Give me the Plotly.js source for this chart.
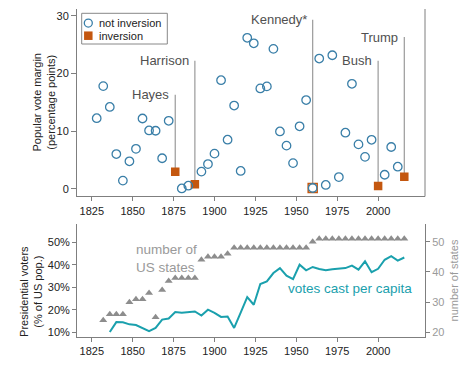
<!DOCTYPE html>
<html>
<head>
<meta charset="utf-8">
<script src="https://cdn.plot.ly/plotly-3.0.1.min.js"></script>
<style>html,body{margin:0;padding:0;background:#fff;}#chart{width:468px;height:373px;}</style>
</head>
<body>
<div id="chart"></div>
<script>
// ---------------- DATA ----------------
const electionYears = [1828,1832,1836,1840,1844,1848,1852,1856,1860,1864,1868,1872,1876,1880,1884,1888,1892,1896,1900,1904,1908,1912,1916,1920,1924,1928,1932,1936,1940,1944,1948,1952,1956,1960,1964,1968,1972,1976,1980,1984,1988,1992,1996,2000,2004,2008,2012,2016];
const voteMargin = [12.25,17.81,14.2,6.05,1.45,4.79,6.95,12.2,10.13,10.08,5.32,11.8,3.0,0.09,0.57,0.83,3.01,4.31,6.12,18.83,8.53,14.44,3.12,26.17,25.22,17.41,17.76,24.26,9.96,7.5,4.48,10.85,15.4,0.17,22.58,0.7,23.15,2.06,9.74,18.21,7.72,5.56,8.51,0.51,2.46,7.27,3.86,2.1];
const inversionYears = [1876,1888,2000,2016];
const disputedYears = [1960];
const labelYears = [1876,1888,1960,2000,2016];
const labelNames = ['Hayes','Harrison','Kennedy*','Bush','Trump'];

const turnoutYears = [1836,1840,1844,1848,1852,1856,1860,1864,1868,1872,1876,1880,1884,1888,1892,1896,1900,1904,1908,1912,1916,1920,1924,1928,1932,1936,1940,1944,1948,1952,1956,1960,1964,1968,1972,1976,1980,1984,1988,1992,1996,2000,2004,2008,2012,2016];
const votesPerCapita = [10.1,14.5,14.4,13.5,13.2,11.9,10.5,11.9,15.6,16.1,19.0,18.7,18.8,19.2,17.4,20.0,18.6,16.8,17.0,11.9,18.7,25.6,22.2,31.4,32.6,36.3,38.5,35.1,33.6,40.0,37.5,39.0,38.1,37.5,38.0,38.3,38.5,39.6,37.8,41.5,36.7,38.2,42.2,43.8,41.8,43.2];

const stateYears = [1832,1836,1840,1844,1848,1852,1856,1860,1864,1868,1872,1876,1880,1884,1888,1892,1896,1900,1904,1908,1912,1916,1920,1924,1928,1932,1936,1940,1944,1948,1952,1956,1960,1964,1968,1972,1976,1980,1984,1988,1992,1996,2000,2004,2008,2012,2016];
const numStates = [24,26,26,26,30,31,31,33,25,34,37,38,38,38,38,44,45,45,45,46,48,48,48,48,48,48,48,48,48,48,48,48,50,51,51,51,51,51,51,51,51,51,51,51,51,51,51];

const xTicks = [1825,1850,1875,1900,1925,1950,1975,2000];
const marginTicks = [0,10,20,30];
const pctTicks = [10,20,30,40,50];
const stateTicks = [20,30,40,50];

// ---------------- LAYOUT HELPERS ----------------
const labelTop = [16.3,22.2,29.3,22.2,26.3]; // label heights (layout)
const FONT = 'Liberation Sans, Arial, Helvetica, sans-serif';
const BLUE = '#3a7fa8', ORANGE = '#c4570f', TEAL = '#1aa0ad', GREY = '#8d8d8d', AX = '#7f7f7f';

const marginOf = y => voteMargin[electionYears.indexOf(y)];
const notInvX = [], notInvY = [];
electionYears.forEach((y,i) => { if (inversionYears.indexOf(y) < 0) { notInvX.push(y); notInvY.push(voteMargin[i]); } });

const traces = [
  {x: inversionYears, y: inversionYears.map(marginOf), xaxis:'x', yaxis:'y', mode:'markers', name:'inversion', showlegend:false,
   marker:{symbol:'square', size:8.5, color:ORANGE}},
  {x: disputedYears, y: disputedYears.map(marginOf), xaxis:'x', yaxis:'y', mode:'markers', name:'disputed', showlegend:false,
   marker:{symbol:'square', size:9, color:'#fff', line:{color:ORANGE, width:1.5}}},
  {x: notInvX, y: notInvY, xaxis:'x', yaxis:'y', mode:'markers', name:'not inversion', showlegend:false,
   marker:{symbol:'circle-open', size:8.5, color:BLUE, line:{width:1.3}}},
  {x: stateYears, y: numStates, xaxis:'x2', yaxis:'y3', mode:'markers', name:'number of US states', showlegend:false,
   marker:{symbol:'triangle-up', size:7, color:GREY}},
  {x: turnoutYears, y: votesPerCapita, xaxis:'x2', yaxis:'y2', mode:'lines', name:'votes cast per capita', showlegend:false,
   line:{color:TEAL, width:2}}
];

const xBase = {range:[1815.96,2028.65], tickvals:xTicks, ticktext:xTicks.map(String), showline:true, linecolor:AX, linewidth:1,
  ticks:'outside', ticklen:4, tickcolor:AX, showgrid:false, zeroline:false, tickfont:{size:11, color:'#222'}};

const shapes = [
  {type:'line', xref:'paper', yref:'y domain', x0:1, x1:1, y0:0, y1:1, line:{color:AX, width:1}},
  // manual legend box
  {type:'rect', xref:'x domain', yref:'y domain', x0:0.0135, x1:0.2595, y0:0.8133, y1:0.977, line:{color:'#888', width:1}, fillcolor:'#fff'},
  {type:'circle', xref:'x domain', yref:'y domain', x0:0.0325-0.0115, x1:0.0325+0.0115, y0:0.925-0.0213, y1:0.925+0.0213, line:{color:BLUE, width:1.3}},
  {type:'rect', xref:'x domain', yref:'y domain', x0:0.0325-0.0122, x1:0.0325+0.0122, y0:0.8576-0.0227, y1:0.8576+0.0227, line:{width:0}, fillcolor:ORANGE}
];
labelYears.forEach((yr,i) => {
  shapes.push({type:'line', xref:'x', yref:'y', x0:yr, x1:yr, y0:marginOf(yr), y1:labelTop[i], line:{color:'#9a9a9a', width:1.2}, layer:'below'});
});

const annotations = [
  {xref:'x domain', yref:'y domain', x:0.0583, y:0.925, xanchor:'left', yanchor:'middle', text:'not inversion', showarrow:false, font:{size:11, color:'#222'}},
  {xref:'x domain', yref:'y domain', x:0.0583, y:0.8576, xanchor:'left', yanchor:'middle', text:'inversion', showarrow:false, font:{size:11, color:'#222'}},
  {xref:'x2', yref:'y2', x:1851, y:42.8, xanchor:'left', yanchor:'middle', align:'left', text:'number of<br>US states', showarrow:false, font:{size:13.5, color:'#9a9a9a'}},
  {xref:'x2', yref:'y2', x:2022, y:29.6, xanchor:'right', yanchor:'middle', text:'votes cast per capita', showarrow:false, font:{size:13.5, color:TEAL}},
  // left axis titles
  {xref:'paper', yref:'paper', x:-0.0948, y:0.715, xanchor:'center', yanchor:'middle', textangle:-90, text:'Popular vote margin<br>(percentage points)', showarrow:false, font:{size:11, color:'#222'}},
  {xref:'paper', yref:'paper', x:-0.1327, y:0.140, xanchor:'center', yanchor:'middle', textangle:-90, text:'Presidential voters<br>(% of US pop.)', showarrow:false, font:{size:11, color:'#222'}}
];
labelYears.forEach((yr,i) => {
  annotations.push({xref:'x', yref:'y', x:yr, y:labelTop[i], xanchor:'right', yanchor:'middle', xshift:-4, text:labelNames[i], showarrow:false, font:{size:13, color:'#505050'}});
});

const layout = {
  width:468, height:373, margin:{l:77, r:43, t:9, b:36}, paper_bgcolor:'#fff', plot_bgcolor:'#fff',
  font:{family:FONT, color:'#222'}, showlegend:false,
  xaxis: Object.assign({}, xBase, {anchor:'y', domain:[0,1]}),
  xaxis2: Object.assign({}, xBase, {anchor:'y2', domain:[0,1]}),
  yaxis: {domain:[0.4284,1], anchor:'x', range:[-1.3,31.16], tickvals:marginTicks, showline:true, linecolor:AX, ticks:'outside', ticklen:5, tickcolor:AX,
    showgrid:false, zeroline:false, tickfont:{size:11, color:'#222'}},
  yaxis2: {domain:[0,0.3445], anchor:'x2', range:[7.87,58.1], tickvals:pctTicks, ticktext:pctTicks.map(v => v + '%'), showline:true, linecolor:AX, ticks:'outside', ticklen:4, tickcolor:AX,
    showgrid:false, zeroline:false, tickfont:{size:11, color:'#222'}},
  yaxis3: {overlaying:'y2', side:'right', anchor:'x2', range:[18.48,55.84], tickvals:stateTicks, showline:true, linecolor:AX, ticks:'outside', ticklen:4, tickcolor:AX,
    showgrid:false, zeroline:false, tickfont:{size:11, color:'#9a9a9a'},
    title:{text:'number of states', font:{size:11, color:'#9a9a9a'}, standoff:6}},
  shapes: shapes,
  annotations: annotations
};

Plotly.newPlot('chart', traces, layout, {displayModeBar:false, staticPlot:true});
</script>
</body>
</html>
